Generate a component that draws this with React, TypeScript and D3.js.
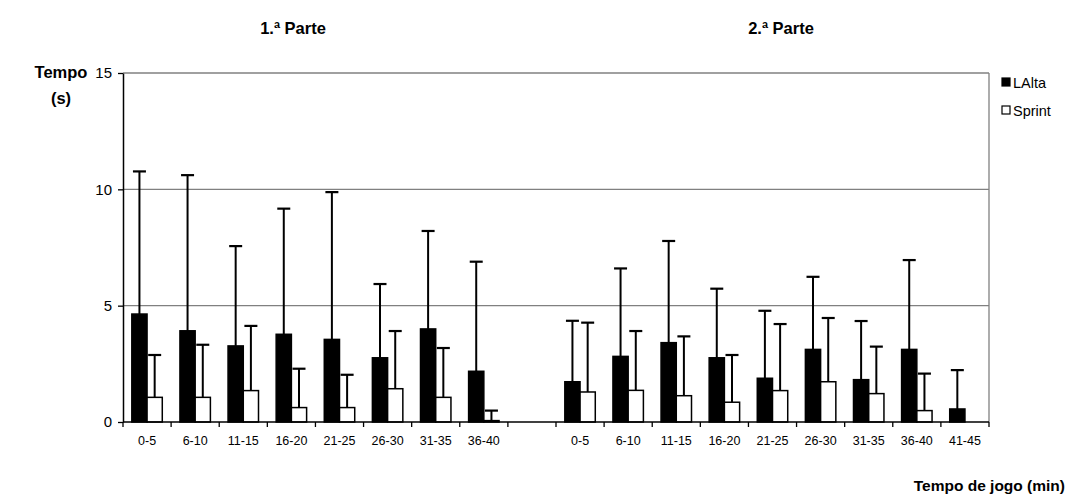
import React, { useRef, useEffect } from 'react';
import * as d3 from 'd3';

// categories (min) for each half, blank slot between them
const part1Labels = ['0-5', '6-10', '11-15', '16-20', '21-25', '26-30', '31-35', '36-40'];
const part2Labels = ['0-5', '6-10', '11-15', '16-20', '21-25', '26-30', '31-35', '36-40', '41-45'];

// mean time (s) and standard deviation (upper error bar)
const laltaPart1 = [4.64, 3.92, 3.27, 3.77, 3.55, 2.76, 4.0, 2.18];
const laltaPart1Sd = [6.13, 6.69, 4.29, 5.4, 6.33, 3.17, 4.21, 4.71];
const sprintPart1 = [1.06, 1.06, 1.35, 0.62, 0.62, 1.43, 1.06, 0.06];
const sprintPart1Sd = [1.82, 2.26, 2.78, 1.67, 1.41, 2.48, 2.12, 0.43];

const laltaPart2 = [1.73, 2.82, 3.41, 2.76, 1.88, 3.12, 1.82, 3.12, 0.56];
const laltaPart2Sd = [2.62, 3.78, 4.37, 2.97, 2.9, 3.12, 2.52, 3.84, 1.67];
const sprintPart2 = [1.29, 1.36, 1.13, 0.85, 1.35, 1.73, 1.22, 0.49, 0];
const sprintPart2Sd = [2.98, 2.55, 2.55, 2.03, 2.86, 2.74, 2.02, 1.59, 0];

const seriesNames = ['LAlta', 'Sprint'];
const yTicks = [0, 5, 10, 15];

const FONT = "Arial, 'Liberation Sans', sans-serif";

const App = () => {
    const ref = useRef<SVGSVGElement | null>(null);

    useEffect(() => {
        if (!ref.current) return;
        const svg = d3.select(ref.current);
        svg.selectAll('*').remove();

        const left = 123, right = 989, top = 73, bottom = 422;

        // one slot per category, plus an empty one between the halves
        const slots = [
            ...part1Labels.map((l, i) => ({ key: 'a' + i, label: l, lalta: laltaPart1[i], laltaSd: laltaPart1Sd[i], sprint: sprintPart1[i], sprintSd: sprintPart1Sd[i] })),
            { key: 'gap', label: '', lalta: null, laltaSd: 0, sprint: null, sprintSd: 0 },
            ...part2Labels.map((l, i) => ({ key: 'b' + i, label: l, lalta: laltaPart2[i], laltaSd: laltaPart2Sd[i], sprint: sprintPart2[i], sprintSd: sprintPart2Sd[i] })),
        ];

        const x = d3.scaleBand().domain(slots.map(d => d.key)).range([left, right]).padding(0);
        const xs = d3.scaleBand().domain(seriesNames).range([0, x.bandwidth()]).paddingInner(0).paddingOuter(0.58);
        const y = d3.scaleLinear().domain([0, 15]).range([bottom, top]);

        // gridlines
        svg.append('g')
            .selectAll('line')
            .data(yTicks.filter(t => t > 0))
            .join('line')
            .attr('x1', left).attr('x2', right)
            .attr('y1', d => y(d)).attr('y2', d => y(d))
            .attr('stroke', '#808080').attr('stroke-width', 1.3);

        // right border
        svg.append('line')
            .attr('x1', right).attr('x2', right).attr('y1', top).attr('y2', bottom)
            .attr('stroke', '#808080').attr('stroke-width', 1.3);

        // bars + error bars
        const groups = svg.append('g')
            .selectAll('g')
            .data(slots.filter(d => d.lalta !== null))
            .join('g')
            .attr('transform', d => `translate(${x(d.key)},0)`);

        const items = groups.selectAll('g')
            .data(d => [
                { name: 'LAlta', v: d.lalta as number, sd: d.laltaSd },
                { name: 'Sprint', v: d.sprint as number, sd: d.sprintSd },
            ])
            .join('g');

        items.filter(d => d.sd > 0).each(function (d) {
            const g = d3.select(this);
            const cx = (xs(d.name) as number) + xs.bandwidth() / 2;
            g.append('line')
                .attr('x1', cx).attr('x2', cx)
                .attr('y1', y(d.v)).attr('y2', y(d.v + d.sd))
                .attr('stroke', '#000').attr('stroke-width', 2);
            g.append('line')
                .attr('x1', cx - 6.5).attr('x2', cx + 6.5)
                .attr('y1', y(d.v + d.sd)).attr('y2', y(d.v + d.sd))
                .attr('stroke', '#000').attr('stroke-width', 2.2);
        });

        items.append('rect')
            .attr('x', d => xs(d.name) as number)
            .attr('width', xs.bandwidth())
            .attr('y', d => y(d.v))
            .attr('height', d => y(0) - y(d.v))
            .attr('fill', d => d.name === 'LAlta' ? '#000' : '#fff')
            .attr('stroke', '#000')
            .attr('stroke-width', 1.5);

        // y axis
        const yAxis = svg.append('g').attr('transform', `translate(${left},0)`)
            .call(d3.axisLeft(y).tickValues(yTicks).tickSize(5).tickSizeOuter(0));
        yAxis.select('.domain').attr('stroke', '#000').attr('stroke-width', 1.5);
        yAxis.selectAll('.tick line').attr('stroke', '#000').attr('stroke-width', 1.3);
        yAxis.selectAll('.tick text')
            .attr('font-family', FONT).attr('font-size', 15).attr('fill', '#000')
            .attr('x', -11);

        // x axis: line, ticks at slot boundaries, labels
        const xAxis = svg.append('g');
        xAxis.append('line')
            .attr('x1', left).attr('x2', right).attr('y1', bottom).attr('y2', bottom)
            .attr('stroke', '#000').attr('stroke-width', 1.5);
        xAxis.selectAll('line.tk')
            .data([...slots.map(d => x(d.key) as number), right])
            .join('line')
            .attr('class', 'tk')
            .attr('x1', d => d).attr('x2', d => d)
            .attr('y1', bottom).attr('y2', bottom + 5)
            .attr('stroke', '#000').attr('stroke-width', 1.3);
        xAxis.selectAll('text')
            .data(slots.filter(d => d.label))
            .join('text')
            .attr('x', d => (x(d.key) as number) + x.bandwidth() / 2)
            .attr('y', bottom + 23)
            .attr('text-anchor', 'middle')
            .attr('font-family', FONT).attr('font-size', 12.5)
            .text(d => d.label);

        // titles
        const bold = (t: string, px: number, py: number, anchor = 'middle', size = 16.5) =>
            svg.append('text')
                .attr('x', px).attr('y', py)
                .attr('text-anchor', anchor)
                .attr('font-family', FONT).attr('font-size', size).attr('font-weight', 'bold')
                .text(t);

        bold('1.ª Parte', 293, 34);
        bold('2.ª Parte', 781, 34);
        bold('Tempo', 61, 78);
        bold('(s)', 61, 104);
        bold('Tempo de jogo (min)', 1065, 491, 'end', 15.5);

        // legend
        const legend = svg.append('g').attr('transform', 'translate(1002,78)');
        seriesNames.forEach((name, i) => {
            legend.append('rect')
                .attr('x', 0).attr('y', i * 28)
                .attr('width', 8).attr('height', 8)
                .attr('fill', name === 'LAlta' ? '#000' : '#fff')
                .attr('stroke', '#000').attr('stroke-width', 1.2);
            legend.append('text')
                .attr('x', 11).attr('y', i * 28 + 9.5)
                .attr('font-family', FONT).attr('font-size', 14.5)
                .text(name);
        });
    }, []);

    return (
        <svg ref={ref} width={1069} height={500}
            style={{ position: 'absolute', left: 0, top: 0, background: '#fff' }} />
    );
};

export default App;
